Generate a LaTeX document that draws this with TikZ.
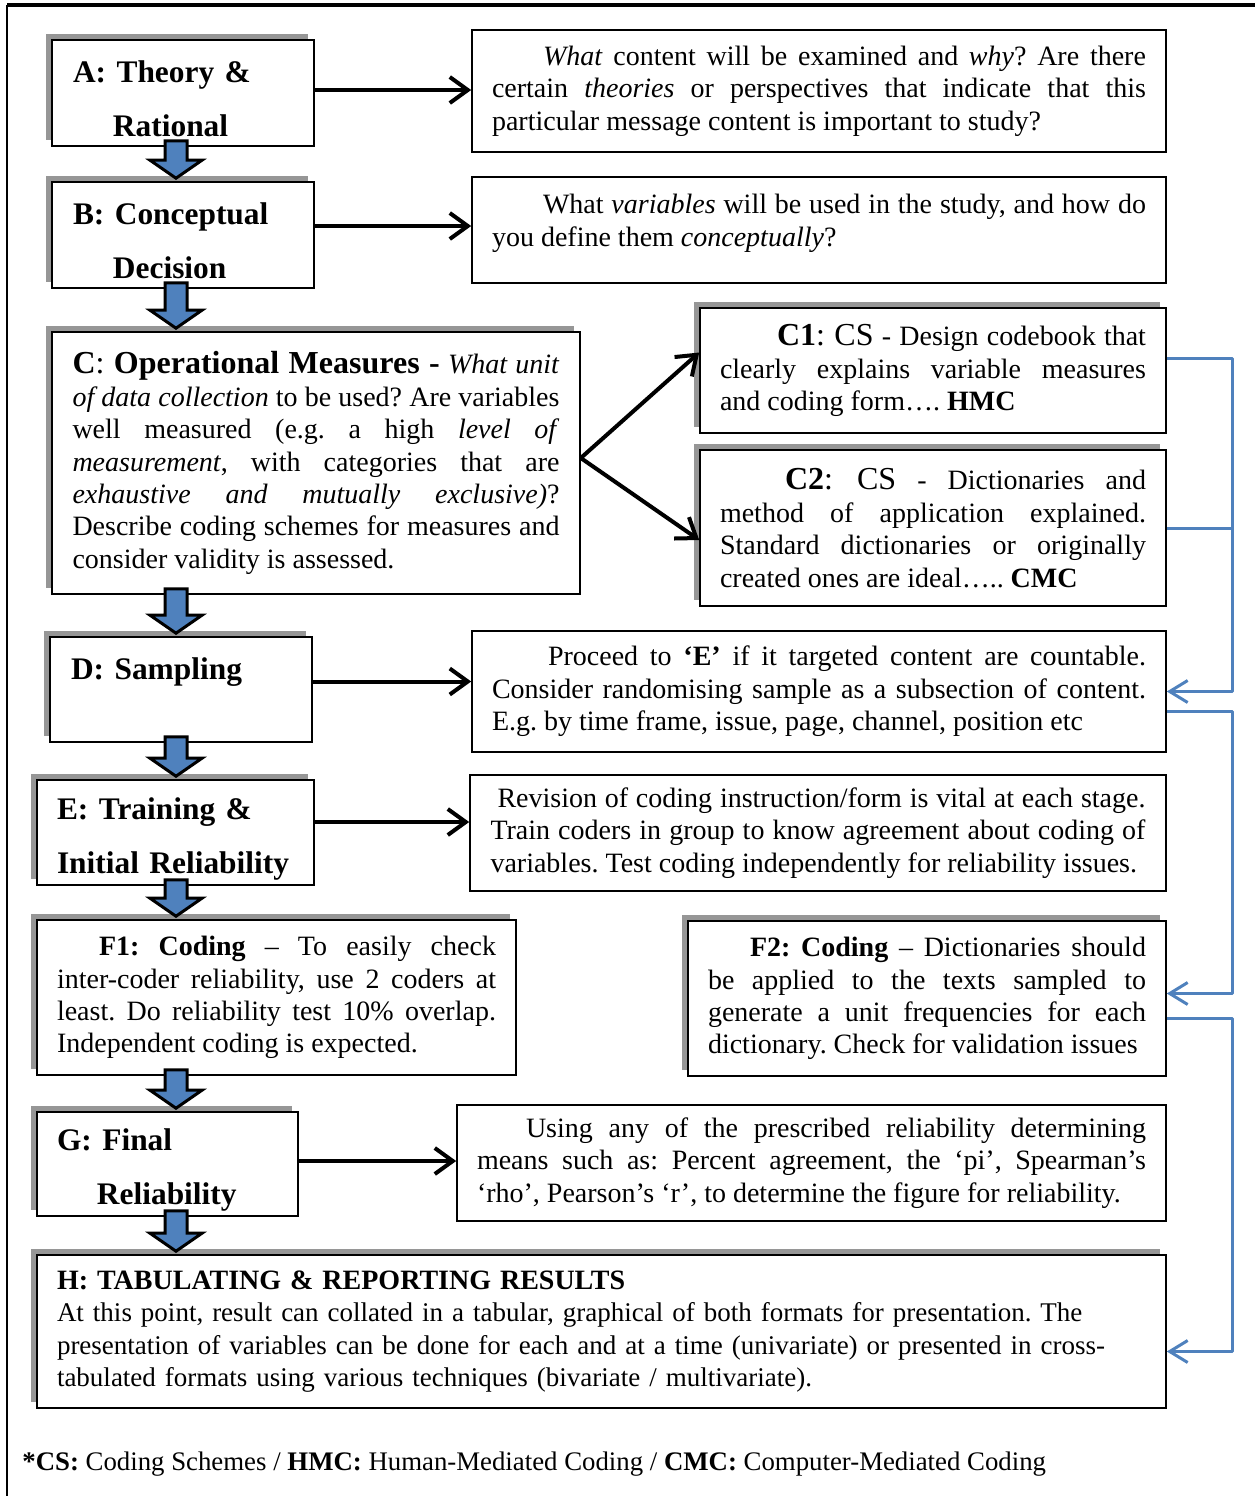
\documentclass[tikz,border=0pt]{standalone}
\usepackage{fontspec}
\setmainfont{Liberation Serif}
\usetikzlibrary{arrows.meta,calc,shadows}
\definecolor{accentblue}{RGB}{79,129,189}
\definecolor{shadowgray}{RGB}{150,150,150}
\tolerance=10000
\hyphenpenalty=10000
\exhyphenpenalty=10000
\frenchspacing
\newcommand{\bigtitle}[1]{{\fontsize{16}{16.2}\selectfont #1}}

\begin{document}
\begin{tikzpicture}[x=0.5pt,y=-0.5pt]
      \tikzstyle{box}=[draw=black, line width=0.8pt, fill=white, inner sep=0pt]
      \tikzstyle{withshadow}=[general shadow={fill=shadowgray, shadow xshift=-3pt, shadow yshift=3pt}]
      \tikzstyle{bodytxt}=[font=\fontsize{14}{16.2}\selectfont, align=justify]
      \tikzstyle{headtxt}=[font=\fontsize{15.7}{27}\selectfont\bfseries, align=left, execute at begin node={\rule{0pt}{17pt}}]
      \tikzstyle{flow}=[draw=black, line width=2pt, -{Straight Barb[length=9pt,width=13pt]}]
      \tikzstyle{link}=[draw=accentblue, line width=1.5pt, line join=round, -{Straight Barb[length=9pt,width=11pt]}]
      \tikzstyle{blockarrow}=[draw=black, line width=1.5pt, fill=accentblue, to path={let \p1=(\tikztostart), \p2=(\tikztotarget) in (\x1-5.5pt,\y1+3pt) -- (\x1-5.5pt,\y2+10.5pt) -- (\x1-13pt,\y2+10.5pt) -- (\x1,\y2+1.5pt) -- (\x1+13pt,\y2+10.5pt) -- (\x1+5.5pt,\y2+10.5pt) -- (\x1+5.5pt,\y1+3pt) -- cycle}]
      \useasboundingbox (0,0) rectangle (1255,1496);
      % frame
      \draw [black, line width=1.75pt] (7,5) -- (1255,5);
      \draw [black, line width=0.7pt] (7,5) -- (7,1496);
      % left column
      \node [box, withshadow, headtxt, minimum width=131pt, minimum height=53pt, text width=110pt] (A) at (183,93) {A: Theory \&\\\hspace*{20pt}Rational};
      \node [box, withshadow, headtxt, minimum width=131pt, minimum height=53pt, text width=110pt] (B) at (183,235) {B: Conceptual\\\hspace*{20pt}Decision};
      \node [box, withshadow, bodytxt, minimum width=264pt, minimum height=131pt, text width=243.5pt] (C) at (316,463) {\bigtitle{\textbf{C}: \textbf{Operational Measures -}} \textit{What unit}\linebreak \textit{of data collection} to be used? Are variables\linebreak well measured (e.g. a high \textit{level of}\linebreak \textit{measurement}, with categories that are\linebreak \textit{exhaustive and mutually exclusive)}?\linebreak Describe coding schemes for measures and\linebreak consider validity is assessed.};
      \node [box, withshadow, headtxt, minimum width=131pt, minimum height=52.5pt, text width=110pt] (D) at (181,689.5) {D: Sampling\\\mbox{}};
      \node [box, withshadow, headtxt, minimum width=138.5pt, minimum height=52.5pt, text width=118.5pt] (E) at (175.5,832.5) {E: Training \&\\Initial Reliability};
      \node [box, withshadow, bodytxt, minimum width=239.5pt, minimum height=77.5pt, text width=219.5pt] (F1) at (276.5,997.5) {\hspace*{21pt}\textbf{F1: Coding} – To easily check\linebreak inter-coder reliability, use 2 coders at\linebreak least. Do reliability test 10\% overlap.\linebreak Independent coding is expected.};
      \node [box, withshadow, headtxt, minimum width=130.5pt, minimum height=52pt, text width=110.5pt] (G) at (167.5,1164) {G: Final\\\hspace*{20pt}Reliability};
      \node [box, withshadow, font=\fontsize{13.5}{16.2}\selectfont, align=left, minimum width=564.5pt, minimum height=76.5pt, text width=544.5pt] (H) at (601.5,1331.5) {{\fontsize{14}{16.2}\selectfont\textbf{H: TABULATING \& REPORTING RESULTS}}\\At this point, result can collated in a tabular, graphical of both formats for presentation. The\\presentation of variables can be done for each and at a time (univariate) or presented in cross-\\tabulated formats using various techniques (bivariate / multivariate).};
      % right column
      \node [box, bodytxt, minimum width=347pt, minimum height=61pt, text width=327pt] (Ar) at (819,91) {\hspace*{25.5pt}\textit{What} content will be examined and \textit{why}? Are there\linebreak certain \textit{theories} or perspectives that indicate that this\linebreak particular message content is important to study?};
      \node [box, bodytxt, minimum width=347pt, minimum height=53pt, text width=327pt, text depth=26pt] (Br) at (819,230) {\hspace*{25.5pt}What \textit{variables} will be used in the study, and how do\linebreak you define them \textit{conceptually}?};
      \node [box, withshadow, bodytxt, minimum width=233pt, minimum height=62.5pt, text width=213pt] (C1) at (933,370.5) {\hspace*{28.5pt}\bigtitle{\textbf{C1}: CS} - Design codebook that\linebreak clearly explains variable measures\linebreak and coding form…. \textbf{HMC}};
      \node [box, withshadow, bodytxt, minimum width=233pt, minimum height=78pt, text width=213pt] (C2) at (933,528) {\hspace*{32.5pt}\bigtitle{\textbf{C2}: CS} - Dictionaries and\linebreak method of application explained.\linebreak Standard dictionaries or originally\linebreak created ones are ideal….. \textbf{CMC}};
      \node [box, bodytxt, minimum width=347pt, minimum height=60.5pt, text width=327pt] (Dr) at (819,691.5) {\hspace*{28pt}Proceed to \textbf{‘E’} if it targeted content are countable.\linebreak Consider randomising sample as a subsection of content.\linebreak E.g. by time frame, issue, page, channel, position etc};
      \node [box, bodytxt, minimum width=348pt, minimum height=58pt, text width=327.5pt] (Er) at (818,833) {\hspace*{3.5pt}Revision of coding instruction/form is vital at each stage.\linebreak Train coders in group to know agreement about coding of\linebreak variables. Test coding independently for reliability issues.};
      \node [box, withshadow, bodytxt, minimum width=239pt, minimum height=77.5pt, text width=219pt] (F2) at (927,998.5) {\hspace*{21pt}\textbf{F2: Coding} – Dictionaries should\linebreak be applied to the texts sampled to\linebreak generate a unit frequencies for each\linebreak dictionary. Check for validation issues};
      \node [box, bodytxt, minimum width=354.5pt, minimum height=58pt, text width=334.5pt] (Gr) at (811.5,1163) {\hspace*{24.5pt}Using any of the prescribed reliability determining\linebreak means such as: Percent agreement, the ‘pi’, Spearman’s\linebreak ‘rho’, Pearson’s ‘r’, to determine the figure for reliability.};
      % footnote
      \node [anchor=west, inner sep=0pt, font=\fontsize{13.4}{16.2}\selectfont] (note) at (22,1464) {\textbf{*CS:} Coding Schemes / \textbf{HMC:} Human-Mediated Coding / \textbf{CMC:} Computer-Mediated Coding};
      % black arrows
      \draw [flow] ([yshift=0.5pt]Ar.west -| A.east) -- ([yshift=0.5pt]Ar.west);
      \draw [flow] ([yshift=2pt]Br.west -| B.east) -- ([yshift=2pt]Br.west);
      \draw [flow] ([yshift=2.5pt]C.east) -- ([yshift=9pt]C1.west);
      \draw [flow] ([yshift=2.5pt]C.east) -- ([yshift=-6pt]C2.west);
      \draw [flow] ([yshift=5pt]Dr.west -| D.east) -- ([yshift=5pt]Dr.west);
      \draw [flow] ([yshift=5.5pt]Er.west -| E.east) -- ([yshift=5.5pt]Er.west);
      \draw [flow] ([yshift=1pt]Gr.west -| G.east) -- ([yshift=1pt]Gr.west);
      % blue arrows down the left
      \coordinate (spine) at (176,0);
      \draw [blockarrow] (A.south -| spine) to (B.north -| spine);
      \draw [blockarrow] (B.south -| spine) to (C.north -| spine);
      \draw [blockarrow] (C.south -| spine) to (D.north -| spine);
      \draw [blockarrow] (D.south -| spine) to (E.north -| spine);
      \draw [blockarrow] (E.south -| spine) to (F1.north -| spine);
      \draw [blockarrow] (F1.south -| spine) to (G.north -| spine);
      \draw [blockarrow] (G.south -| spine) to (H.north -| spine);
      % feedback lines on the right
      \draw [link] ([yshift=6pt]C1.east) -- ++(66,0) |- (Dr.east);
      \draw [link, -] (C2.east) -- ++(66,0);
      \draw [link] ([yshift=-10pt]Dr.east) -- ++(66,0) |- ([yshift=2.5pt]F2.east);
      \draw [link] ([yshift=-10pt]F2.east) -- ++(66,0) |- ([yshift=-10pt]H.east);
\end{tikzpicture}
\end{document}
